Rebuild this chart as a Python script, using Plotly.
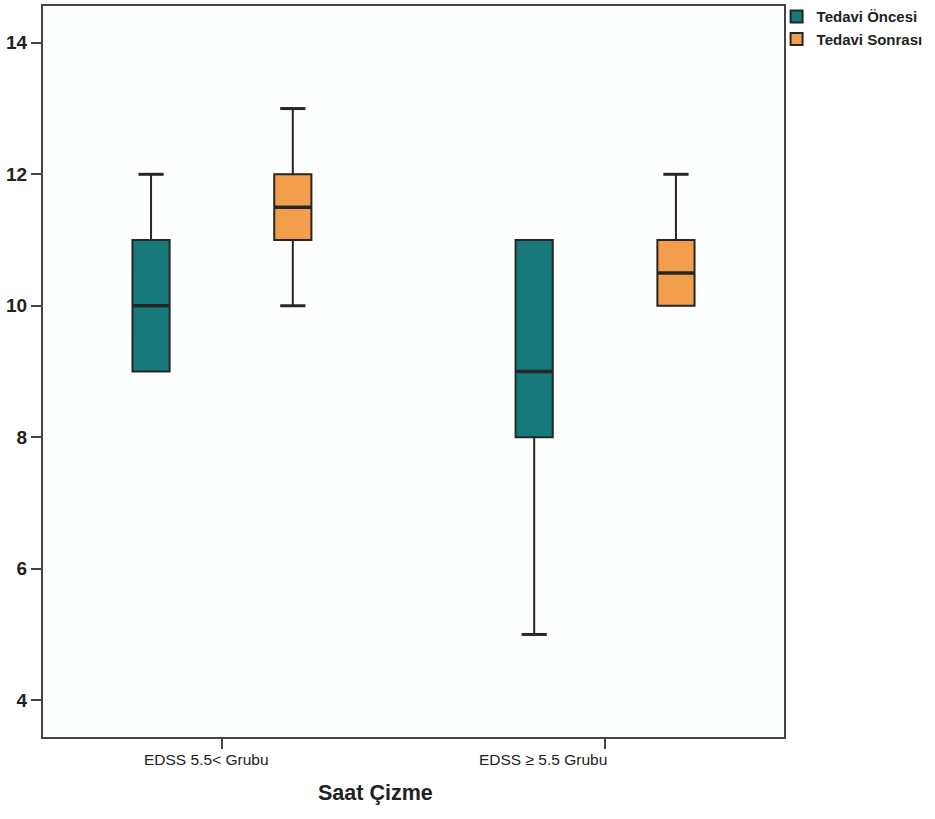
import plotly.graph_objects as go

# Groups on the x axis
groups = ["EDSS 5.5< Grubu", "EDSS \u2265 5.5 Grubu"]

# Five-number summaries, before treatment
before_low = [9, 5]
before_q1 = [9, 8]
before_med = [10, 9]
before_q3 = [11, 11]
before_high = [12, 11]

# Five-number summaries, after treatment
after_low = [10, 10]
after_q1 = [11, 10]
after_med = [11.5, 10.5]
after_q3 = [12, 11]
after_high = [13, 12]

series = [
    ("Tedavi \u00d6ncesi", "#17797A", -0.185, before_low, before_q1, before_med, before_q3, before_high),
    ("Tedavi Sonras\u0131", "#F29E4C", 0.185, after_low, after_q1, after_med, after_q3, after_high),
]

BOX_W = 0.097
INK = "#262626"
FONT = "Liberation Sans"

fig = go.Figure()

for name, color, offset, lo, q1, med, q3, hi in series:
    xs = [i + offset for i in range(len(groups))]
    fig.add_trace(go.Box(
        name=name, x=xs, q1=q1, median=med, q3=q3,
        lowerfence=lo, upperfence=hi, width=BOX_W,
        fillcolor=color, line=dict(color=INK, width=2),
        whiskerwidth=0, boxpoints=False, hoverinfo="skip",
    ))
    # heavier median bars
    mx, my = [], []
    for x, m in zip(xs, med):
        mx += [x - BOX_W / 2, x + BOX_W / 2, None]
        my += [m, m, None]
    fig.add_trace(go.Scatter(x=mx, y=my, mode="lines", showlegend=False,
                             line=dict(color=INK, width=3.5), hoverinfo="skip"))
    # whisker caps where a whisker exists
    cx, cy = [], []
    for x, l, a, b, h in zip(xs, lo, q1, q3, hi):
        if h > b:
            cx.append(x); cy.append(h)
        if l < a:
            cx.append(x); cy.append(l)
    fig.add_trace(go.Scatter(x=cx, y=cy, mode="markers", showlegend=False,
                             marker=dict(symbol="line-ew", size=18,
                                         line=dict(color=INK, width=3)),
                             hoverinfo="skip"))

fig.update_layout(
    width=935, height=819,
    margin=dict(l=43, r=151, t=6, b=82, autoexpand=False),
    paper_bgcolor="white", plot_bgcolor="#fdfefe",
    boxmode="overlay",
    font=dict(family=FONT, size=14, color="#222"),
    legend=dict(x=0.99, y=1.008, xanchor="left", yanchor="top",
                font=dict(family=FONT, size=15, weight="bold", color="#222"),
                tracegroupgap=0, itemwidth=30, bgcolor="rgba(0,0,0,0)"),
    xaxis=dict(range=[-0.467, 1.467], tickvals=list(range(len(groups))),
               ticktext=["", ""], ticks="outside", ticklen=10, tickwidth=2,
               tickcolor="#444", showline=True, linecolor="#444", linewidth=2,
               mirror=True, showgrid=False, zeroline=False),
    yaxis=dict(range=[3.44, 14.56], tickvals=[4, 6, 8, 10, 12, 14],
               ticks="outside", ticklen=10, tickwidth=2, tickcolor="#444",
               showline=True, linecolor="#444", linewidth=2, mirror=True,
               showgrid=False, zeroline=False,
               tickfont=dict(family=FONT, size=19, weight="bold", color="#222")),
)

# group labels under the axis
for i, (g, shift) in enumerate(zip(groups, [-15, -62])):
    fig.add_annotation(x=i, y=0, xref="x", yref="paper", yshift=-22, xshift=shift,
                       text=g, showarrow=False, yanchor="middle",
                       font=dict(family=FONT, size=15.5, color="#222"))

# axis title, placed in pixel terms relative to the plot area
fig.add_annotation(x=(375 - 43) / (784 - 43), y=-0.077, xref="paper", yref="paper",
                   text="Saat \u00c7izme", showarrow=False, yanchor="middle",
                   font=dict(family=FONT, size=21.5, weight="bold", color="#222"))

fig.write_html("out.html")
